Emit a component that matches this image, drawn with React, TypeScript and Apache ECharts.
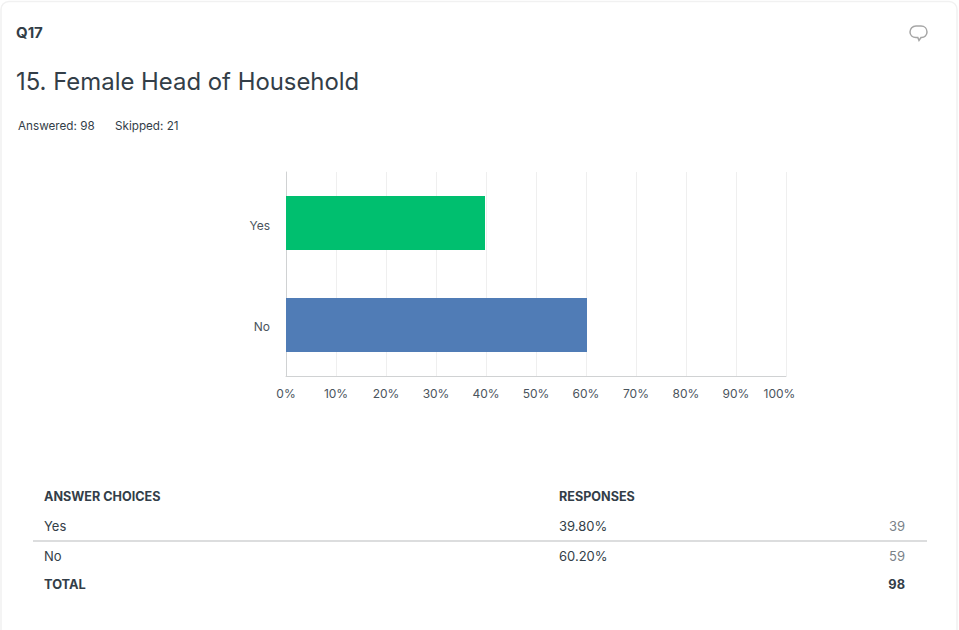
import React, { useEffect, useRef } from "react";
import * as echarts from "echarts";

const categories = ["Yes", "No"];
const percentValues = [39.8, 60.2];
const responseCounts = [39, 59];
const percentLabels = ["39.80%", "60.20%"];
const barColors = ["#00BF6F", "#507CB6"];
const totalResponses = 98;
const answered = 98;
const skipped = 21;

const FONT = "Inter, sans-serif";
const INK = "#333E48";

echarts.graphic.registerShape(
  "bubble",
  echarts.graphic.extendPath(
    "M6 0L11 0C14.5 0 17 2.6 17 6C17 9.2 14.5 11.5 11.5 11.5L11 11.5L9 14.5L7.8 11.5L6 11.5C2.5 11.5 0 9.2 0 6C0 2.6 2.5 0 6 0Z",
    {},
  ) as any,
);

const txt = (
  x: number,
  y: number,
  text: string,
  size: number,
  opts: { weight?: number; fill?: string; align?: string } = {},
) => ({
  type: "text",
  x,
  y,
  silent: true,
  style: {
    text,
    font: `${opts.weight ?? 400} ${size}px ${FONT}`,
    fill: opts.fill ?? INK,
    align: opts.align ?? "left",
    verticalAlign: "middle",
  },
});

const catLabel = { color: "#4A545D", fontSize: 12, fontFamily: FONT };

export default function App() {
  const ref = useRef<HTMLDivElement>(null);
  useEffect(() => {
    const chart = echarts.init(ref.current!, undefined, { renderer: "svg" });
    chart.setOption({
      animation: false,
      backgroundColor: "#fff",
      textStyle: { fontFamily: FONT },
      grid: { left: 286, top: 172, width: 500, height: 204, containLabel: false },
      xAxis: {
        type: "value",
        min: 0,
        max: 100,
        interval: 10,
        axisLabel: {
          formatter: (v: number) => (v === 100 ? `{last|${v}%}` : `${v}%`),
          color: "#4A545D",
          fontSize: 12,
          margin: 11,
          fontFamily: FONT,
          rich: { last: { padding: [0, 13, 0, 0], color: "#4A545D", fontSize: 12, fontFamily: FONT } },
        },
        axisLine: { show: true, lineStyle: { color: "#D0D2D3", width: 1 } },
        axisTick: { show: false },
        splitLine: { show: true, lineStyle: { color: "#EFEFEF", width: 1 } },
      },
      yAxis: {
        type: "category",
        inverse: true,
        data: categories,
        axisLabel: {
          ...catLabel,
          margin: 16,
          formatter: (v: string) => `{${v === categories[0] ? "a" : "b"}|${v}}`,
          rich: {
            a: { ...catLabel, padding: [4, 0, 0, 0] },
            b: { ...catLabel, padding: [2, 0, 0, 0] },
          },
        },
        axisLine: { show: true, lineStyle: { color: "#D0D2D3", width: 1 } },
        axisTick: { show: false },
        splitLine: { show: false },
      },
      series: [
        {
          type: "bar",
          barWidth: 54,
          silent: true,
          data: percentValues.map((value, i) => ({ value, itemStyle: { color: barColors[i] } })),
        },
      ],
      graphic: {
        elements: [
          {
            type: "rect",
            z: -1,
            silent: true,
            shape: { x: 1, y: 1.5, width: 956, height: 640, r: 8 },
            style: { fill: "#fff", stroke: "#F1F1F1", lineWidth: 1.5 },
          },
          txt(16, 32.5, "Q17", 15, { weight: 700 }),
          txt(16, 81.5, "15. Female Head of Household", 23.9),
          txt(18, 125.5, `Answered: ${answered}`, 11.7),
          txt(115, 125.5, `Skipped: ${skipped}`, 11.7),
          {
            type: "bubble",
            x: 910,
            y: 26,
            silent: true,
            style: { fill: "none", stroke: "#A6A6A6", lineWidth: 1.5 },
          },
          txt(44, 496, "ANSWER CHOICES", 12.6, { weight: 700 }),
          txt(559, 496, "RESPONSES", 12.6, { weight: 700 }),
          txt(44, 526, categories[0], 13),
          txt(559, 526, percentLabels[0], 13),
          txt(905, 526, String(responseCounts[0]), 13, { fill: "#7A8288", align: "right" }),
          {
            type: "line",
            silent: true,
            shape: { x1: 33, y1: 541, x2: 927, y2: 541 },
            style: { stroke: "#D0D2D3", lineWidth: 1.5 },
          },
          txt(44, 556, categories[1], 13),
          txt(559, 556, percentLabels[1], 13),
          txt(905, 556, String(responseCounts[1]), 13, { fill: "#7A8288", align: "right" }),
          txt(44, 584, "TOTAL", 12.8, { weight: 700 }),
          txt(905, 584, String(totalResponses), 12.8, { weight: 700, align: "right" }),
        ],
      },
    });
    return () => chart.dispose();
  }, []);
  return (
    <div
      ref={ref}
      style={{ position: "fixed", left: 0, top: 0, width: 959, height: 630 }}
    />
  );
}
